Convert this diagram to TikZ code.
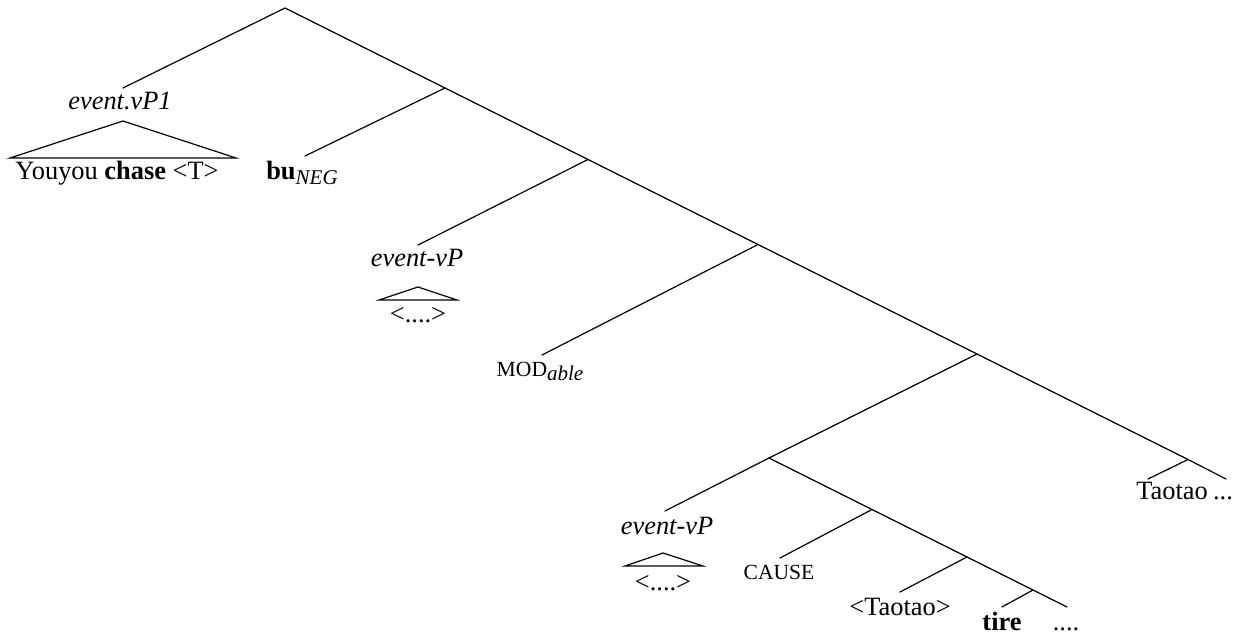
\documentclass[tikz,border=0pt]{standalone}
\usepackage{fontspec}
\setmainfont{Liberation Serif}
\newcommand{\lowsub}[1]{\raisebox{-0.35ex}{\fontsize{10.5}{11}\selectfont\itshape #1}}
\begin{document}
\begin{tikzpicture}[x=0.5pt,y=-0.5pt,line width=0.6pt,
  lbl/.style={anchor=base,inner sep=0pt,font=\fontsize{13.2}{15}\selectfont},
  smallcaps/.style={lbl,font=\fontsize{10.8}{12}\selectfont},
  branch/.style={draw,line cap=round}]
\useasboundingbox (0,0) rectangle (1236,635);

% branching points
\coordinate (root) at (285,8);
\coordinate (j1) at (445,88);
\coordinate (j2) at (588,159.5);
\coordinate (j3) at (758,244.5);
\coordinate (j4) at (977,354);
\coordinate (j5) at (1188,459.5);
\coordinate (jin) at (769,458);
\coordinate (jc) at (872,509.5);
\coordinate (jt) at (967,557);
\coordinate (jtire) at (1033,590);

% ends of branches above the labels
\coordinate (vp1top) at (123,88);
\coordinate (butop) at (305,156);
\coordinate (ev1top) at (418,245);
\coordinate (modtop) at (542,355);
\coordinate (ev2top) at (665,511);
\coordinate (causetop) at (780,558);
\coordinate (taotop) at (900,592);
\coordinate (tiretop) at (1002,607);
\coordinate (dotsAtop) at (1067,607);
\coordinate (tao2top) at (1148,479);
\coordinate (dotsBtop) at (1226,479);

% roof triangles
\coordinate (t1a) at (123,121); \coordinate (t1l) at (10,158); \coordinate (t1r) at (236,158);
\coordinate (t2a) at (418,287); \coordinate (t2l) at (379,300); \coordinate (t2r) at (457,300);
\coordinate (t3a) at (663,553); \coordinate (t3l) at (625,566); \coordinate (t3r) at (703,566);

% labels
\node[lbl] (vp1) at (120,110) {\itshape event.vP1};
\node[lbl] (youyou) at (117,180) {Youyou \textbf{chase} <T>};
\node[lbl] (bu) at (302,180) {\textbf{bu}\lowsub{NEG}};
\node[lbl] (ev1) at (417,267) {\itshape event-vP};
\node[lbl] (dots1) at (418,323) {<....>};
\node[smallcaps] (mod) at (540,377) {MOD\lowsub{able}};
\node[lbl] (ev2) at (667,535) {\itshape event-vP};
\node[lbl] (dots3) at (663,590) {<....>};
\node[smallcaps] (cause) at (779,580) {CAUSE};
\node[lbl] (tao) at (900,615) {<Taotao>};
\node[lbl] (tire) at (1002,630) {\textbf{tire}};
\node[lbl] (dotsA) at (1066,630) {....};
\node[lbl] (tao2) at (1172,500) {Taotao};
\node[lbl] (dotsB) at (1223,500) {...};

% spine and branches
\draw[branch] (vp1top) -- (root) -- (j1) -- (j2) -- (j3) -- (j4) -- (j5) -- (dotsBtop);
\draw[branch] (j1) -- (butop);
\draw[branch] (j2) -- (ev1top);
\draw[branch] (j3) -- (modtop);
\draw[branch] (j4) -- (jin) -- (ev2top);
\draw[branch] (jin) -- (jc) -- (jt) -- (jtire) -- (dotsAtop);
\draw[branch] (jc) -- (causetop);
\draw[branch] (jt) -- (taotop);
\draw[branch] (jtire) -- (tiretop);
\draw[branch] (j5) -- (tao2top);

% roofs
\draw[branch] (t1l) -- (t1a) -- (t1r) -- cycle;
\draw[branch] (t2l) -- (t2a) -- (t2r) -- cycle;
\draw[branch] (t3l) -- (t3a) -- (t3r) -- cycle;
\end{tikzpicture}
\end{document}
